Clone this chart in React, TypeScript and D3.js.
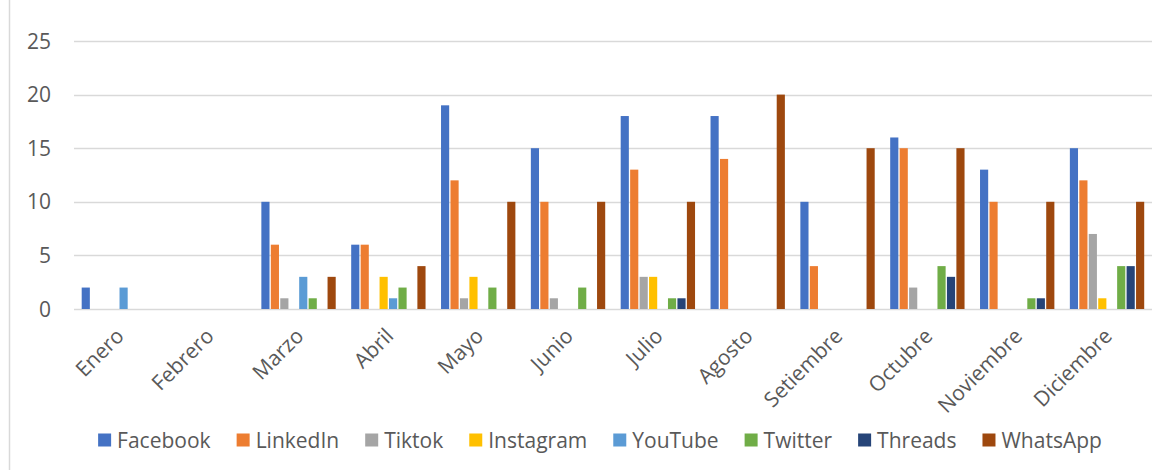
import React, { useEffect, useRef } from "react";
import * as d3 from "d3";

const months = ["Enero", "Febrero", "Marzo", "Abril", "Mayo", "Junio", "Julio", "Agosto", "Setiembre", "Octubre", "Noviembre", "Diciembre"];
const seriesNames = ["Facebook", "LinkedIn", "Tiktok", "Instagram", "YouTube", "Twitter", "Threads", "WhatsApp"];
const seriesColors = ["#4472C4", "#ED7D31", "#A5A5A5", "#FFC000", "#5B9BD5", "#70AD47", "#264478", "#9E480E"];

const facebook = [2, 0, 10, 6, 19, 15, 18, 18, 10, 16, 13, 15];
const linkedin = [0, 0, 6, 6, 12, 10, 13, 14, 4, 15, 10, 12];
const tiktok = [0, 0, 1, 0, 1, 1, 3, 0, 0, 2, 0, 7];
const instagram = [0, 0, 0, 3, 3, 0, 3, 0, 0, 0, 0, 1];
const youtube = [2, 0, 3, 1, 0, 0, 0, 0, 0, 0, 0, 0];
const twitter = [0, 0, 1, 2, 2, 2, 1, 0, 0, 4, 1, 4];
const threads = [0, 0, 0, 0, 0, 0, 1, 0, 0, 3, 1, 4];
const whatsapp = [0, 0, 3, 4, 10, 10, 10, 20, 15, 15, 10, 10];

const yTicks = [0, 5, 10, 15, 20, 25];

const seriesValues = [facebook, linkedin, tiktok, instagram, youtube, twitter, threads, whatsapp];

export default function App() {
  const ref = useRef<SVGSVGElement>(null);

  useEffect(() => {
    const W = 1168, H = 470;
    const left = 74, right = 1152, top = 41, bottom = 309;
    const font = "'Open Sans', sans-serif";
    const fs = 21;
    const textColor = "#595959";
    const svg = d3.select(ref.current);
    svg.selectAll("*").remove();

    svg.append("rect").attr("x", 0).attr("y", 0).attr("width", W).attr("height", H).attr("fill", "#fff");
    svg.append("line").attr("x1", 9.5).attr("x2", 9.5).attr("y1", 0).attr("y2", H)
      .attr("stroke", "#d9d9d9").attr("stroke-width", 1.5);

    const x0 = d3.scaleBand<string>().domain(months).range([left, right]).paddingInner(0).paddingOuter(0);
    const x1 = d3.scaleBand<string>().domain(seriesNames).range([0, x0.bandwidth()]).paddingInner(0).paddingOuter(0.75);
    const y = d3.scaleLinear().domain([0, 25]).range([bottom, top]);

    // gridlines
    svg.append("g").selectAll("line").data(yTicks).join("line")
      .attr("x1", left).attr("x2", right)
      .attr("y1", (d) => Math.round(y(d)) + 0.5).attr("y2", (d) => Math.round(y(d)) + 0.5)
      .attr("stroke", "#d9d9d9").attr("stroke-width", 1.3);

    // y labels
    svg.append("g").selectAll("text").data(yTicks).join("text")
      .attr("x", 51).attr("y", (d) => y(d)).attr("dy", "0.36em")
      .attr("text-anchor", "end").attr("font-family", font).attr("font-size", fs)
      .attr("fill", textColor).text((d) => String(d));

    // bars
    const bw = x1.bandwidth();
    seriesNames.forEach((name, si) => {
      svg.append("g").selectAll("rect")
        .data(seriesValues[si].map((v, i) => ({ v, m: months[i] })).filter((d) => d.v > 0))
        .join("rect")
        .attr("x", (d) => (x0(d.m) as number) + (x1(name) as number) + 0.6)
        .attr("width", bw - 1.3)
        .attr("y", (d) => y(d.v))
        .attr("height", (d) => y(0) - y(d.v))
        .attr("fill", seriesColors[si]);
    });

    // category labels
    svg.append("g").selectAll("text").data(months).join("text")
      .attr("transform", (d) => `translate(${(x0(d) as number) + x0.bandwidth() / 2 + 1},${332}) rotate(-45)`)
      .attr("text-anchor", "end").attr("dy", "0.36em")
      .attr("font-family", font).attr("font-size", fs).attr("fill", textColor)
      .text((d) => d);

    // legend
    const lg = svg.append("g");
    const marker = 13, gapText = 6, gapItem = 26;
    const items = seriesNames.map((name, i) => {
      const g = lg.append("g");
      g.append("rect").attr("x", 0).attr("y", -marker / 2).attr("width", marker).attr("height", marker).attr("fill", seriesColors[i]);
      const t = g.append("text").attr("x", marker + gapText).attr("y", 0).attr("dy", "0.36em")
        .attr("font-family", font).attr("font-size", fs).attr("fill", textColor).text(name);
      const w = (t.node() as SVGTextElement).getComputedTextLength();
      return { g, w: marker + gapText + w };
    });
    const total = items.reduce((s, it) => s + it.w, 0) + gapItem * (items.length - 1);
    let cx = 600 - total / 2;
    items.forEach((it) => {
      it.g.attr("transform", `translate(${cx},440)`);
      cx += it.w + gapItem;
    });
  }, []);

  return (
    <svg ref={ref} width={1168} height={470} style={{ position: "absolute", left: 0, top: 0, display: "block" }} />
  );
}
